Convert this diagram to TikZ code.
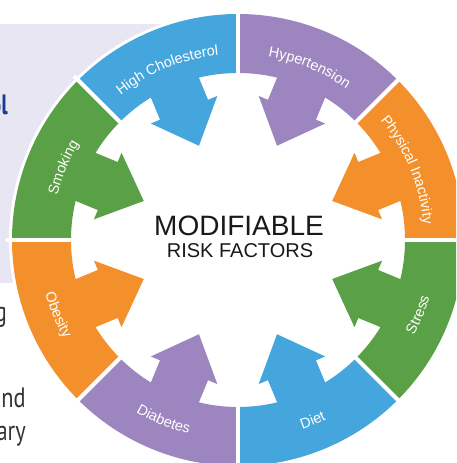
\documentclass[tikz,border=0pt]{standalone}
\usepackage{fontspec}
\setmainfont{Liberation Sans}
\newfontfamily\narrowfont{PT Sans}
\usetikzlibrary{decorations.text}

\definecolor{riskblue}{HTML}{45A6DD}
\definecolor{riskpurple}{HTML}{9D86BF}
\definecolor{riskorange}{HTML}{F4902B}
\definecolor{riskgreen}{HTML}{5AA047}
\definecolor{panelbg}{HTML}{E8E6F3}
\definecolor{headblue}{HTML}{1B3A8E}
\definecolor{bodygray}{HTML}{333333}

% white label font on the ring
\newcommand\segfont{\fontsize{14.5}{14.5}\selectfont\color{white}}
% label along an arc, upper half (letters point outwards)
\newcommand\seglabeltop[2]{%
  \path[decorate, decoration={text along path, text={|\segfont|#2}, text align=center}]
    (#1+21:186) arc[start angle=#1+21, end angle=#1-21, radius=186];}
% label along an arc, lower half (letters point inwards)
\newcommand\seglabelbot[2]{%
  \path[decorate, decoration={text along path, text={|\segfont|#2}, text align=center}]
    (#1-21:200) arc[start angle=#1-21, end angle=#1+21, radius=200];}

\begin{document}
\begin{tikzpicture}[x=1pt, y=1pt,
  fragment/.style={anchor=base east, inner sep=0pt, font=\narrowfont\fontsize{28}{28}\selectfont},
  titletext/.style={anchor=base, inner sep=0pt, text=black!90}]

\path[use as bounding box, clip] (-238,-223) rectangle (218,240);

% background panel with the cut-off page text
\fill[panelbg] (-238,-43) rectangle (2,216);
\node[fragment, text=headblue, font=\narrowfont\bfseries\fontsize{28}{28}\selectfont] (headfrag) at (-230,125) {\scalebox{0.78}[1]{ol}};
\node[fragment, text=bodygray] (linea) at (-231,-81) {\scalebox{0.8}[1]{g}};
\node[fragment, text=bodygray] (lineb) at (-212,-167) {\scalebox{0.8}[1]{nd}};
\node[fragment, text=bodygray] (linec) at (-212,-200) {\scalebox{0.8}[1]{ary}};

% white rim
\fill[white] (0,0) circle[radius=229];

% ring sectors, each with an inward arrow on its bisector
\foreach \a/\c in {0/riskorange, 45/riskpurple, 90/riskblue, 135/riskgreen,
                   180/riskorange, 225/riskpurple, 270/riskblue, 315/riskgreen}{
  \pgfmathsetmacro\b{\a+45}
  \pgfmathsetmacro\m{\a+22.5}
  \fill[\c] (\a:226) arc[start angle=\a, end angle=\b, radius=226]
     -- (\b:167) arc[start angle=\b, end angle=\a, radius=167] -- cycle;
  \fill[\c, rotate=\m] (175,-26) -- (141,-26) -- (141,-36) -- (102,0)
     -- (141,36) -- (141,26) -- (175,26) -- cycle;
}

% white gaps between sectors
\foreach \a in {0,45,...,315}
  \draw[white, line width=4] (\a:165) -- (\a:232);

% labels
\seglabeltop{22.5}{Physical Inactivity}
\seglabeltop{67.5}{Hypertension}
\seglabeltop{112.5}{High Cholesterol}
\seglabeltop{157.5}{Smoking}
\seglabelbot{202.5}{Obesity}
\seglabelbot{247.5}{Diabetes}
\seglabelbot{292.5}{Diet}
\seglabelbot{337.5}{Stress}

% centre title
\node[titletext, font=\fontsize{28}{28}\selectfont] (title) at (1,5) {MODIFIABLE};
\node[titletext, font=\fontsize{20}{20}\selectfont] (subtitle) at (2,-17) {RISK FACTORS};

\end{tikzpicture}
\end{document}
